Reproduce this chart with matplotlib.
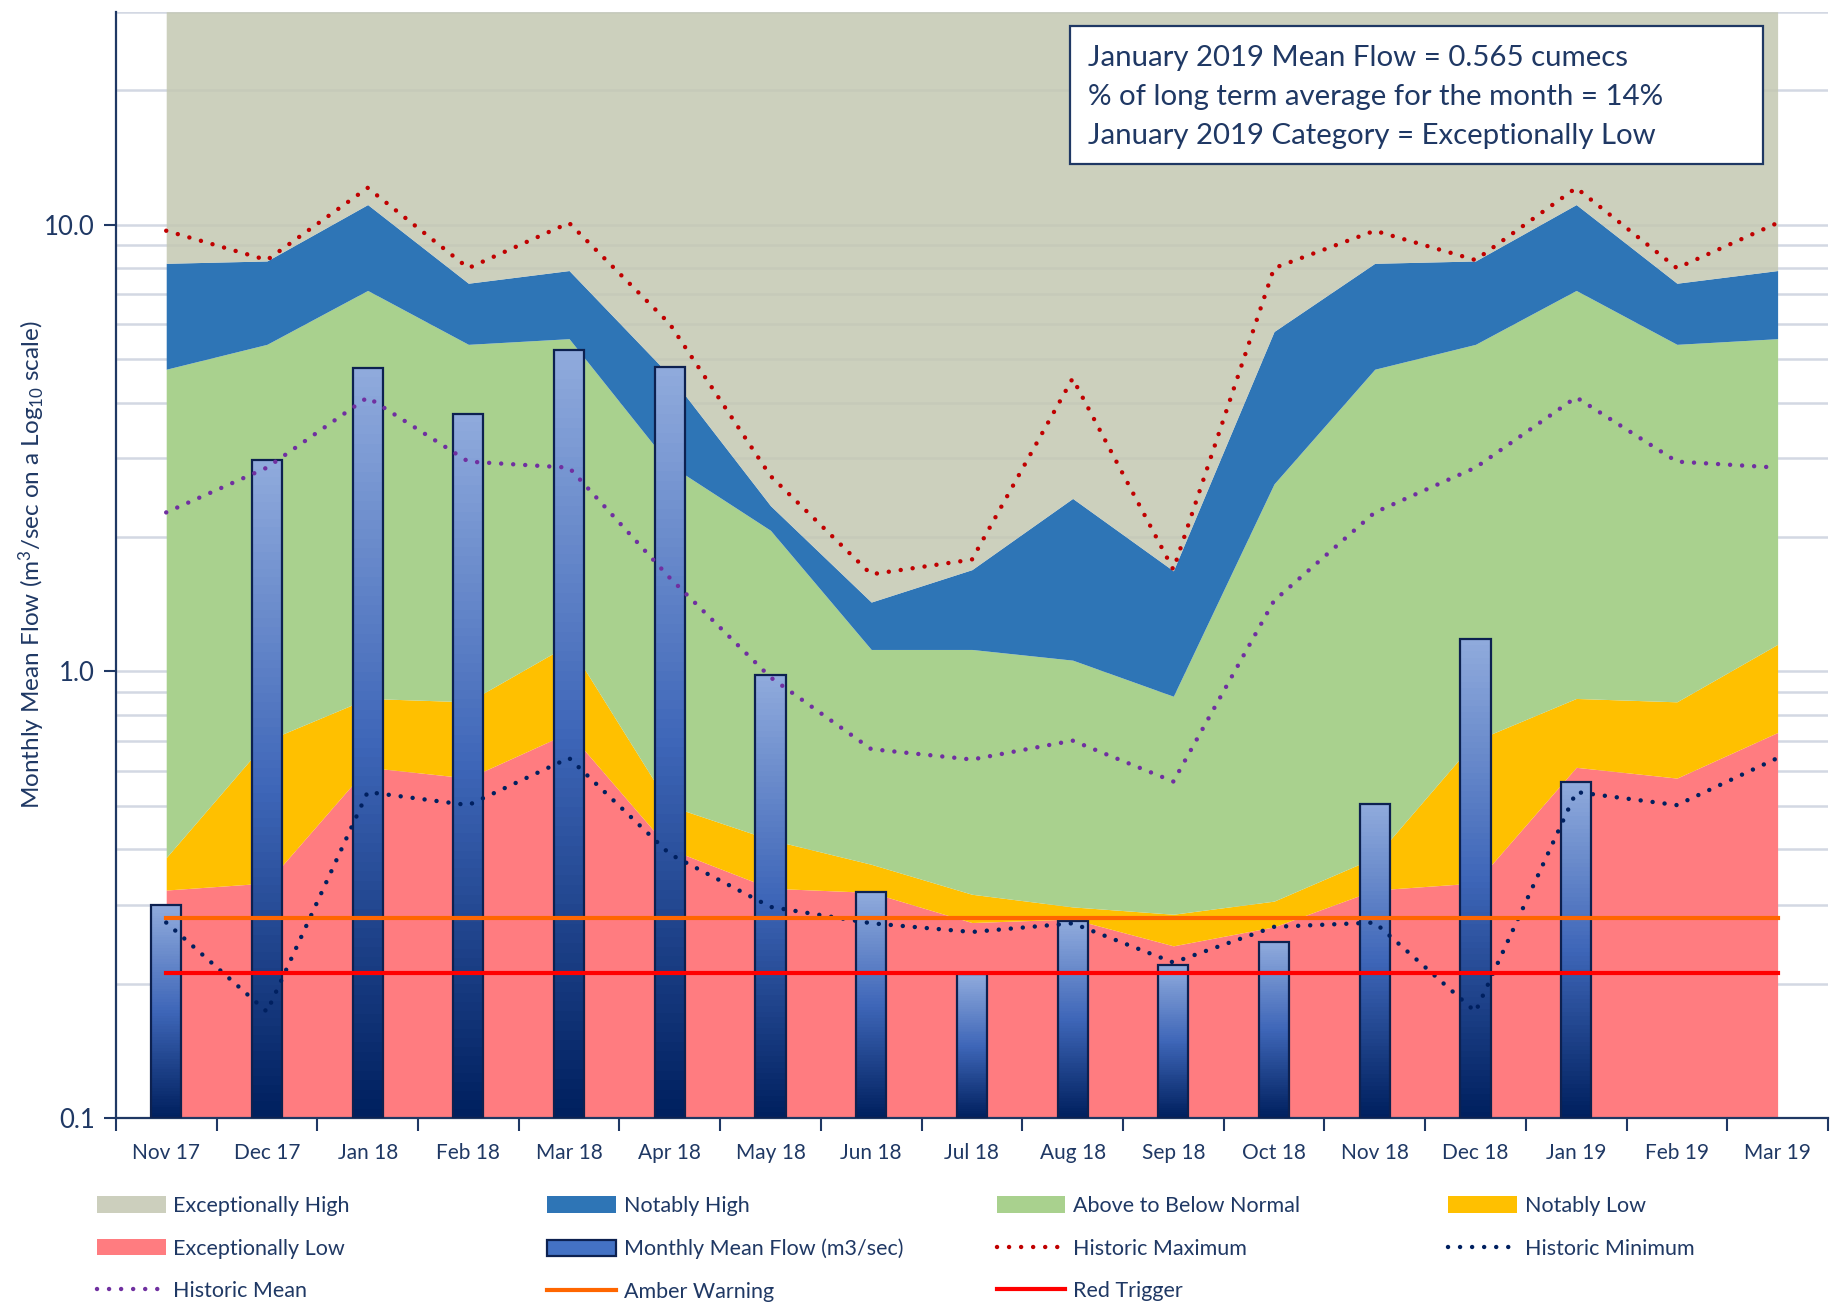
import matplotlib
matplotlib.use("Agg")
import matplotlib.pyplot as plt
import numpy as np
from matplotlib.colors import LinearSegmentedColormap
from matplotlib.patches import Patch, Rectangle
from matplotlib.lines import Line2D
from matplotlib.ticker import LogLocator, FixedLocator, NullFormatter

plt.rcParams['font.family'] = ['Lato', 'DejaVu Sans']
plt.rcParams['mathtext.fontset'] = 'custom'
plt.rcParams['mathtext.rm'] = 'Lato'
plt.rcParams['mathtext.it'] = 'Lato:italic'

navy = '#1f3864'

# data
months = ['Nov 17', 'Dec 17', 'Jan 18', 'Feb 18', 'Mar 18', 'Apr 18', 'May 18',
          'Jun 18', 'Jul 18', 'Aug 18', 'Sep 18', 'Oct 18', 'Nov 18', 'Dec 18',
          'Jan 19', 'Feb 19', 'Mar 19']
exc_low_top = [0.324, 0.336, 0.61, 0.577, 0.73, 0.40, 0.327, 0.32, 0.274, 0.279, 0.243,
               0.268, 0.324, 0.336, 0.61, 0.577, 0.73]
not_low_top = [0.383, 0.70, 0.87, 0.855, 1.15, 0.50, 0.42, 0.37, 0.317, 0.297, 0.286,
               0.306, 0.383, 0.70, 0.87, 0.855, 1.15]
normal_top = [4.75, 5.4, 7.13, 5.4, 5.56, 2.9, 2.07, 1.12, 1.12, 1.06, 0.88,
              2.63, 4.75, 5.4, 7.13, 5.4, 5.56]
not_high_top = [8.2, 8.3, 11.1, 7.4, 7.9, 4.6, 2.35, 1.43, 1.69, 2.44, 1.68,
                5.77, 8.2, 8.3, 11.1, 7.4, 7.9]
hist_max = [9.7, 8.34, 12.1, 8.0, 10.1, 6.0, 2.74, 1.65, 1.78, 4.53, 1.69,
            8.0, 9.7, 8.34, 12.1, 8.0, 10.1]
hist_mean = [2.27, 2.86, 4.11, 2.95, 2.86, 1.62, 0.97, 0.67, 0.635, 0.70, 0.567,
             1.44, 2.27, 2.86, 4.11, 2.95, 2.86]
hist_min = [0.274, 0.173, 0.537, 0.502, 0.64, 0.39, 0.297, 0.273, 0.261, 0.273, 0.223,
            0.268, 0.274, 0.173, 0.537, 0.502, 0.64]
mean_flow = [0.30, 2.97, 4.78, 3.78, 5.24, 4.81, 0.98, 0.32, 0.21, 0.276, 0.22,
             0.248, 0.505, 1.18, 0.565, np.nan, np.nan]
amber_warning = 0.281
red_trigger = 0.211
ymin, ymax = 0.1, 30

x = np.arange(len(months))

fig = plt.figure(figsize=(18.39, 13.04), dpi=100)
ax = fig.add_axes([0.063, 0.1426, 0.931, 0.8484])
ax.set_yscale('log')
ax.set_xlim(-0.5, 16.5)
ax.set_ylim(ymin, ymax)

# bands
ax.fill_between(x, ymin, exc_low_top, color='#ff7c80', lw=0, zorder=1)
ax.fill_between(x, exc_low_top, not_low_top, color='#ffc000', lw=0, zorder=1)
ax.fill_between(x, not_low_top, normal_top, color='#a9d18e', lw=0, zorder=1)
ax.fill_between(x, normal_top, not_high_top, color='#2e75b6', lw=0, zorder=1)
ax.fill_between(x, not_high_top, ymax, color='#c4c8b2', alpha=0.85, lw=0, zorder=1)

# gradient bars
cmap = LinearSegmentedColormap.from_list('bar', ['#00205f', '#3e66b8', '#8faadc'])
flow = np.array(mean_flow)
bars = ax.bar(x, flow - ymin, bottom=ymin, width=0.3, facecolor='none',
              edgecolor='#0d2150', linewidth=1.6, zorder=3)
for b in bars:
    h = b.get_height()
    if not np.isfinite(h):
        continue
    y0 = b.get_y()
    ye = np.geomspace(y0, y0 + h, 80)
    xe = [b.get_x(), b.get_x() + b.get_width()]
    c = np.linspace(0, 1, 79).reshape(-1, 1)
    ax.pcolormesh(xe, ye, c, cmap=cmap, shading='flat', zorder=2.5)

# lines
dot = (0, (0.01, 2.7))
dl = dict(lw=3.2, ls=dot, dash_capstyle='round')
ax.plot(x, hist_max, color='#c00000', zorder=4, **dl)
ax.plot(x, hist_min, color='#002060', zorder=4, **dl)
ax.plot(x, hist_mean, color='#7030a0', zorder=4, **dl)
ax.plot(x, [amber_warning] * len(x), color='#ff6600', lw=3, zorder=4)
ax.plot(x, [red_trigger] * len(x), color='#ff0000', lw=3, zorder=4)

# axes styling
ax.set_xticks(x)
ax.set_xticklabels(months, fontsize=15, color=navy)
ax.xaxis.set_minor_locator(FixedLocator(np.arange(-0.5, 17, 1)))
ax.tick_params(axis='x', which='major', length=0, pad=18)
ax.tick_params(axis='x', which='minor', length=9, width=1.5, color=navy)
ax.set_yticks([0.1, 1, 10])
ax.set_yticklabels(['0.1', '1.0', '10.0'], fontsize=18.5, color=navy)
ax.yaxis.set_minor_locator(LogLocator(base=10, subs=np.arange(2, 10)))
ax.yaxis.set_minor_formatter(NullFormatter())
ax.tick_params(axis='y', which='major', length=9, width=1.5, color=navy, pad=6)
ax.tick_params(axis='y', which='minor', length=0)
ax.grid(True, which='both', axis='y', color='#d3d8e3', lw=1.8, zorder=0)
ax.set_axisbelow(True)
for s in ['top', 'right']:
    ax.spines[s].set_visible(False)
for s in ['left', 'bottom']:
    ax.spines[s].set_color(navy)
    ax.spines[s].set_linewidth(1.6)
ax.set_ylabel('Monthly Mean Flow (m$^3$/sec on a Log$_{10}$ scale)', fontsize=17.5,
              color=navy, labelpad=-2)

# info box
fig.patches.append(Rectangle((0.5818, 0.8742), 0.3768, 0.1058, transform=fig.transFigure,
                             facecolor='white', edgecolor=navy, lw=1.6, zorder=10))
info = ['January 2019 Mean Flow = 0.565 cumecs',
        '% of long term average for the month = 14%',
        'January 2019 Category = Exceptionally Low']
for i, t in enumerate(info):
    fig.text(0.5916, 0.9558 - i * 0.0302, t, fontsize=21.2, color=navy,
             va='center', ha='left', zorder=11)

# legend, laid out row by row in four columns
h_eh = Patch(facecolor='#cccfbd', edgecolor='none')
h_nh = Patch(facecolor='#2e75b6', edgecolor='none')
h_nn = Patch(facecolor='#a9d18e', edgecolor='none')
h_nl = Patch(facecolor='#ffc000', edgecolor='none')
h_el = Patch(facecolor='#ff7c80', edgecolor='none')
h_mf = Patch(facecolor='#4472c4', edgecolor='#0d2150', lw=1.6)
h_max = Line2D([], [], color='#c00000', **dl)
h_min = Line2D([], [], color='#002060', **dl)
h_mean = Line2D([], [], color='#7030a0', **dl)
h_am = Line2D([], [], color='#ff6600', lw=3)
h_rt = Line2D([], [], color='#ff0000', lw=3)
columns = [
    [(h_eh, 'Exceptionally High'), (h_el, 'Exceptionally Low'), (h_mean, 'Historic Mean')],
    [(h_nh, 'Notably High'), (h_mf, 'Monthly Mean Flow (m3/sec)'), (h_am, 'Amber Warning')],
    [(h_nn, 'Above to Below Normal'), (h_max, 'Historic Maximum'), (h_rt, 'Red Trigger')],
    [(h_nl, 'Notably Low'), (h_min, 'Historic Minimum')],
]
col_x = [0.0527, 0.2976, 0.5419, 0.7876]
for cx, col in zip(col_x, columns):
    leg = fig.legend([c[0] for c in col], [c[1] for c in col],
                     loc='upper left', bbox_to_anchor=(cx, 0.0828), frameon=False,
                     fontsize=15.5, handlelength=3.2, handleheight=0.8,
                     handletextpad=0.35, labelspacing=1.05, borderpad=0, borderaxespad=0)
    for t in leg.get_texts():
        t.set_color(navy)

fig.savefig('out.png', dpi=100)
